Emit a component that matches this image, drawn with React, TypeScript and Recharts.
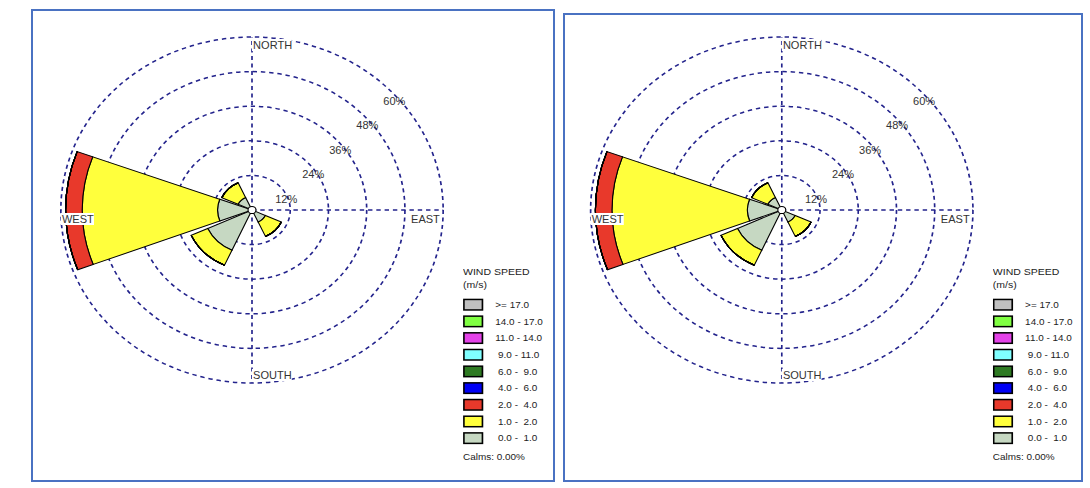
import React from 'react';
import { RadialBarChart, RadialBar, PolarGrid, PolarAngleAxis, PolarRadiusAxis } from 'recharts';

// the reference picture is stretched sideways, so each panel is drawn round and scaled in x
const STRETCH = 1.105;
const FONT = '"Liberation Sans", Arial, sans-serif';
const OUTER = 173;
const RAD = Math.PI / 180;

const directions = ['N', 'NE', 'E', 'SE', 'S', 'SW', 'W', 'NW'];
const directionNames: Record<string, string> = { N: 'NORTH', E: 'EAST', S: 'SOUTH', W: 'WEST' };

// frequency (%) of each wind speed class, per direction (same order as directions)
const freq0to1 = [0, 0, 0, 4.6, 0, 15.3, 10.8, 4.8];
const freq1to2 = [0, 0, 0, 5.5, 0, 5.7, 42.5, 5.6];
const freq2to4 = [0, 0, 0, 0, 0, 0, 5.2, 0];
const freq4to6 = [0, 0, 0, 0, 0, 0, 0, 0];
const freq6to9 = [0, 0, 0, 0, 0, 0, 0, 0];
const freq9to11 = [0, 0, 0, 0, 0, 0, 0, 0];
const freq11to14 = [0, 0, 0, 0, 0, 0, 0, 0];
const freq14to17 = [0, 0, 0, 0, 0, 0, 0, 0];
const freq17up = [0, 0, 0, 0, 0, 0, 0, 0];
const calms = '0.00%';

const speedKeys = ['s0', 's1', 's2', 's4', 's6', 's9', 's11', 's14', 's17'];
const speedLabels = [' 0.0 -  1.0', ' 1.0 -  2.0', ' 2.0 -  4.0', ' 4.0 -  6.0', ' 6.0 -  9.0', ' 9.0 - 11.0', '11.0 - 14.0', '14.0 - 17.0', '>= 17.0'];
const speedColors = ['#c6d8c2', '#ffff3c', '#e8392b', '#0000f4', '#2e7a22', '#80ffff', '#e442e8', '#80ff42', '#c0c0c0'];
const radiusTicks = [0, 12, 24, 36, 48, 60];

const speedSeries = [freq0to1, freq1to2, freq2to4, freq4to6, freq6to9, freq9to11, freq11to14, freq14to17, freq17up];
const data = directions.map((dir, i) => {
  const row: Record<string, string | number> = { dir };
  speedKeys.forEach((k, j) => {
    row[k] = speedSeries[j][i];
  });
  return row;
});

const labelWidths: Record<string, number> = { N: 36, E: 27, S: 36, W: 30 };

// recharts puts category angle ticks on the edge of each sector, so the label is turned back half a sector
const DirectionTick = (props: any) => {
  const { x, y, payload } = props;
  const name = directionNames[payload.value];
  if (!name) return null;
  const a = payload.coordinate;
  const cx = x - OUTER * Math.cos(-a * RAD);
  const cy = y - OUTER * Math.sin(-a * RAD);
  const mid = a + 22.5;
  const px = cx + OUTER * Math.cos(-mid * RAD);
  const py = cy + OUTER * Math.sin(-mid * RAD);
  let tx = px + 1;
  let ty = py;
  let anchor: 'start' | 'end' = 'start';
  if (payload.value === 'N') ty = py + 8;
  if (payload.value === 'S') ty = py - 8;
  if (payload.value === 'E') { tx = px - 3; ty = py + 9; anchor = 'end'; }
  if (payload.value === 'W') ty = py + 9;
  const w = labelWidths[payload.value];
  const rx = anchor === 'start' ? tx - 1 : tx - w + 1;
  return (
    <g>
      <rect x={rx} y={ty - 6} width={w} height={12} fill="#fff" />
      <text x={tx} y={ty} textAnchor={anchor} dominantBaseline="central" fontSize={10} fontFamily={FONT} fill="#333">
        {name}
      </text>
    </g>
  );
};

const RadiusTick = (props: any) => {
  const { x, y, payload } = props;
  if (payload.value === 0) {
    return <circle cx={x} cy={y} r={3.6} fill="#fff" stroke="#000" strokeWidth={1} />;
  }
  return (
    <text x={x + 6.5} y={y + 13.5} textAnchor="middle" dominantBaseline="central" fontSize={10} fontFamily={FONT} fill="#333">
      {payload.value}%
    </text>
  );
};

const Rose = () => (
  <RadialBarChart
    width={380}
    height={380}
    cx={190}
    cy={190}
    innerRadius={0}
    outerRadius={OUTER}
    data={data}
    layout="centric"
    startAngle={67.5}
    endAngle={-292.5}
    barCategoryGap="5%"
    margin={{ top: 0, right: 0, bottom: 0, left: 0 }}
  >
    <PolarGrid gridType="circle" polarAngles={[0, 90, 180, 270]} stroke="#23238c" strokeWidth={1.5} strokeDasharray="4 3.5" />
    {speedKeys.map((k, j) => (
      <RadialBar key={k} dataKey={k} stackId="speed" fill={speedColors[j]} stroke="#000" strokeWidth={1} isAnimationActive={false} />
    ))}
    <PolarAngleAxis type="category" dataKey="dir" axisLine={false} tickLine={false} tickSize={0.01} tick={<DirectionTick />} />
    <PolarRadiusAxis type="number" domain={[0, 60]} ticks={radiusTicks} angle={45} axisLine={false} tickLine={false} tick={<RadiusTick />} />
  </RadialBarChart>
);

const WindLegend = ({ left }: { left: number }) => {
  const rows = speedLabels.map((label, j) => ({ label, color: speedColors[j] })).reverse();
  return (
    <svg style={{ position: 'absolute', left, top: 262 }} width={100} height={205} fontFamily={FONT}>
      <text x={0} y={9.5} dominantBaseline="central" fontSize={9.5} fill="#222">WIND SPEED</text>
      <text x={0} y={22.5} dominantBaseline="central" fontSize={9.5} fill="#222">(m/s)</text>
      {rows.map((r, i) => {
        const top = 36.7 + i * 16.68;
        return (
          <g key={r.label}>
            <rect x={0.75} y={top + 0.75} width={16.8} height={10.5} fill={r.color} stroke="#000" strokeWidth={1.5} />
            <text x={29.2} y={top + 6} dominantBaseline="central" fontSize={9} fill="#222" style={{ whiteSpace: 'pre' }}>
              {r.label}
            </text>
          </g>
        );
      })}
      <text x={0} y={194.7} dominantBaseline="central" fontSize={9} fill="#222">Calms: {calms}</text>
    </svg>
  );
};

type PanelProps = { left: number; top: number; width: number; height: number; chartLeft: number; chartTop: number; legendLeft: number };

const Panel = ({ left, top, width, height, chartLeft, chartTop, legendLeft }: PanelProps) => (
  <>
    <div style={{ position: 'absolute', left, top, width, height, border: '2px solid #4a72c2', boxSizing: 'border-box' }} />
    <div
      style={{
        position: 'absolute',
        left,
        top: 0,
        width: width / STRETCH,
        height: 488,
        transform: `scaleX(${STRETCH})`,
        transformOrigin: '0 0',
      }}
    >
      <div style={{ position: 'absolute', left: chartLeft, top: chartTop }}>
        <Rose />
      </div>
      <WindLegend left={legendLeft} />
    </div>
  </>
);

export default function App() {
  return (
    <div style={{ position: 'absolute', left: 0, top: 0, width: 1090, height: 488, background: '#fff', fontFamily: FONT, overflow: 'hidden' }}>
      <Panel left={31} top={9} width={524} height={473} chartLeft={9.5} chartTop={19.5} legendLeft={390.7} />
      <Panel left={563} top={13} width={520} height={469} chartLeft={8.4} chartTop={20} legendLeft={388.5} />
    </div>
  );
}
